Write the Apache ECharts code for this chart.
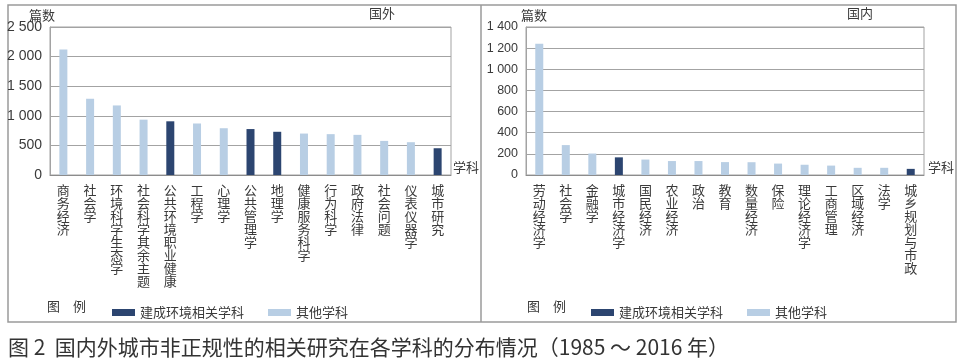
<!DOCTYPE html>
<html>
<head>
<meta charset="utf-8">
<script src="https://cdn.jsdelivr.net/npm/echarts@6/dist/echarts.min.js"></script>
<style>
html,body{margin:0;padding:0;background:#fff;}
#chart{width:963px;height:363px;}
</style>
</head>
<body>
<div id="chart"></div>
<script>
// ---- data ----
var leftCategories = ['商务经济','社会学','环境科学生态学','社会科学其余主题','公共环境职业健康','工程学','心理学','公共管理学','地理学','健康服务科学','行为科学','政府法律','社会问题','仪表仪器学','城市研究'];
var leftValues = [2120,1288,1175,935,907,870,790,776,730,700,690,678,576,554,452];
var leftBuiltEnv = [0,0,0,0,1,0,0,1,1,0,0,0,0,0,1];

var rightCategories = ['劳动经济学','社会学','金融学','城市经济学','国民经济','农业经济','政治','教育','数量经济','保险','理论经济学','工商管理','区域经济','法学','城乡规划与市政'];
var rightValues = [1241,283,203,167,146,132,132,122,121,108,97,89,68,68,58];
var rightBuiltEnv = [0,0,0,1,0,0,0,0,0,0,0,0,0,0,1];

var leftTicks = [0,500,1000,1500,2000,2500];
var rightTicks = [0,200,400,600,800,1000,1200,1400];

var seriesBuilt = '建成环境相关学科';
var seriesOther = '其他学科';
var captionText = '图 2  国内外城市非正规性的相关研究在各学科的分布情况（1985 ～ 2016 年）';

var darkColor = '#2c4570';
var lightColor = '#b8cee4';
var gridColor = '#a3a3a3';
var textColor = '#3a3a3a';

function pick(vals, flags, want) {
  return vals.map(function (v, i) { return flags[i] === want ? v : '-'; });
}
function fmtNum(v) {
  var s = String(v);
  if (s.length > 3) s = s.slice(0, s.length - 3) + ' ' + s.slice(s.length - 3);
  return s;
}
function vert(s) { return s.split('').join('\n'); }

var chart = echarts.init(document.getElementById('chart'), null, {renderer: 'canvas'});

function xAxisFor(cats, gi) {
  return {
    type: 'category', gridIndex: gi, data: cats,
    axisLine: {show: true, lineStyle: {color: '#8c8c8c', width: 1}},
    axisTick: {show: false},
    axisLabel: {
      interval: 0, margin: 9, fontSize: 13, lineHeight: 13,
      color: textColor, fontFamily: 'Noto Sans CJK SC',
      formatter: function (v) { return vert(v); }
    }
  };
}
function yAxisFor(ticks, gi, fs) {
  return {
    type: 'value', gridIndex: gi, min: ticks[0], max: ticks[ticks.length - 1],
    interval: ticks[1] - ticks[0],
    axisLine: {show: true, lineStyle: {color: gridColor}},
    axisTick: {show: false},
    splitLine: {show: true, lineStyle: {color: gridColor, width: 1}},
    axisLabel: {
      margin: 8, fontSize: fs, color: textColor, fontFamily: 'Liberation Sans, Arial',
      formatter: function (v) { return fmtNum(v); }
    }
  };
}
function barSeries(name, data, gi, color) {
  return {
    name: name, type: 'bar', xAxisIndex: gi, yAxisIndex: gi,
    data: data, barWidth: 8, barGap: '-100%',
    itemStyle: {color: color}, silent: true
  };
}

var txt = function (x, y, text, size, fill) {
  return {type: 'text', left: x, top: y, silent: true,
    style: {text: text, fill: fill || textColor, font: size + 'px "Noto Sans CJK SC"'}};
};

var option = {
  animation: false,
  backgroundColor: '#fff',
  grid: [
    {left: 50, top: 27, width: 401, height: 148, show: true, borderColor: gridColor, borderWidth: 1, containLabel: false},
    {left: 526, top: 27, width: 398, height: 148, show: true, borderColor: gridColor, borderWidth: 1, containLabel: false}
  ],
  xAxis: [xAxisFor(leftCategories, 0), xAxisFor(rightCategories, 1)],
  yAxis: [yAxisFor(leftTicks, 0, 14), yAxisFor(rightTicks, 1, 12.5)],
  legend: [
    {left: 107, top: 301, itemWidth: 23, itemHeight: 7, itemGap: 24, icon: 'rect',
     data: [seriesBuilt, seriesOther], selectedMode: false,
     textStyle: {fontSize: 13, color: textColor, fontFamily: 'Noto Sans CJK SC'}},
    {left: 586, top: 301, itemWidth: 23, itemHeight: 7, itemGap: 24, icon: 'rect',
     data: [seriesBuilt, seriesOther], selectedMode: false,
     textStyle: {fontSize: 13, color: textColor, fontFamily: 'Noto Sans CJK SC'}}
  ],
  series: [
    barSeries(seriesBuilt, pick(leftValues, leftBuiltEnv, 1), 0, darkColor),
    barSeries(seriesOther, pick(leftValues, leftBuiltEnv, 0), 0, lightColor),
    barSeries(seriesBuilt, pick(rightValues, rightBuiltEnv, 1), 1, darkColor),
    barSeries(seriesOther, pick(rightValues, rightBuiltEnv, 0), 1, lightColor)
  ],
  graphic: [
    {type: 'rect', silent: true, z: -1, shape: {x: 8, y: 5, width: 948, height: 317},
     style: {fill: 'none', stroke: '#9a9a9a', lineWidth: 1.5}},
    {type: 'line', silent: true, shape: {x1: 481, y1: 5, x2: 481, y2: 322},
     style: {stroke: '#9a9a9a', lineWidth: 1.5}},
    txt(29, 9, '篇数', 13),
    txt(521, 9, '篇数', 13),
    txt(369, 7, '国外', 13),
    txt(847, 7, '国内', 13),
    txt(453, 161, '学科', 13),
    txt(928, 161, '学科', 13),
    txt(47, 300, '图\u3000例', 13),
    txt(527, 300, '图\u3000例', 13),
    txt(8, 337, captionText, 21, '#333')
  ]
};
chart.setOption(option);
</script>
</body>
</html>
